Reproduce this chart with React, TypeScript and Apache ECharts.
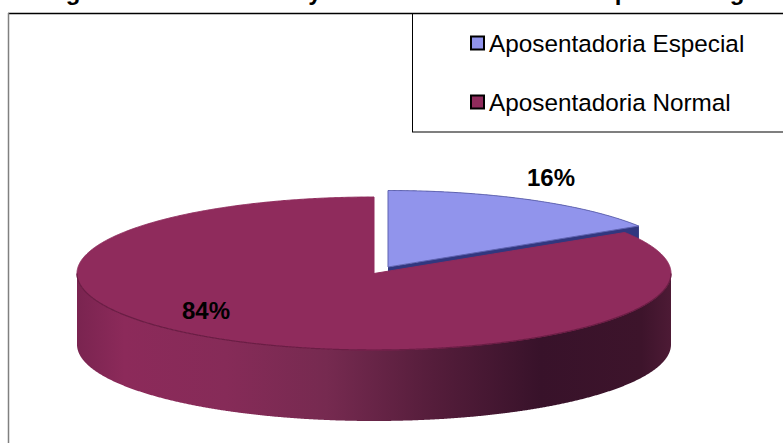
import React, { useEffect, useRef } from "react";
import * as echarts from "echarts";

const categories = ["Aposentadoria Especial", "Aposentadoria Normal"];
const values = [16, 84];
// Only the descenders of the original title are visible in the picture.
const titleFragments = ["g", "y", "p", "g"];

const FONT = "'Liberation Sans', Arial, sans-serif";
const total = values.reduce((a, b) => a + b, 0);
const RX = 297;
const RY = 76.5;
const DEPTH = 71;
const slices = [
  { cx: 388, cy: 267, face: "#9194ec", edge: "#5f63b0", cut: "#31377f", label: [551, 177] },
  { cx: 374, cy: 273.5, face: "#8f2b5c", edge: "#6a1d44", cut: "#6a1d44", label: [206, 310] },
];
const wallGradient = {
  type: "linear", x: 77, y: 0, x2: 671, y2: 0, global: true,
  colorStops: [
    { offset: 0, color: "#7a2450" },
    { offset: 0.08, color: "#8c2a5a" },
    { offset: 0.25, color: "#862b58" },
    { offset: 0.42, color: "#762a50" },
    { offset: 0.6, color: "#551d3b" },
    { offset: 0.78, color: "#38122a" },
    { offset: 0.95, color: "#3d142b" },
    { offset: 1, color: "#4d1a35" },
  ],
};

function arc(cx: number, cy: number, from: number, to: number) {
  const pts: number[][] = [];
  const n = Math.max(2, Math.ceil((to - from) / 0.004));
  for (let i = 0; i <= n; i++) {
    const a = from + ((to - from) * i) / n;
    pts.push([cx + RX * Math.sin(a), cy - RY * Math.cos(a)]);
  }
  return pts;
}

function makeSeries(index: number) {
  const start = values.slice(0, index).reduce((a, b) => a + b, 0);
  const s = slices[index];
  return {
    type: "custom",
    name: categories[index],
    coordinateSystem: "none",
    silent: true,
    z: index + 2,
    itemStyle: { color: s.face, borderColor: "#000", borderWidth: 2 },
    data: [values[index]],
    renderItem: (_p: unknown, api: any) => {
      const v = api.value(0);
      const a0 = (start / total) * Math.PI * 2;
      const a1 = ((start + v) / total) * Math.PI * 2;
      const top = arc(s.cx, s.cy, a0, a1);
      // The wall is only seen on the front half of the ellipse.
      const wallTop = arc(
        s.cx,
        s.cy,
        Math.max(a0, index === 0 ? a0 : Math.PI * 0.5),
        Math.min(a1, index === 0 ? a1 : Math.PI * 1.5),
      );
      const low = wallTop.map(([x, y]) => [x, y + DEPTH]);
      const wall = [...wallTop, ...low.slice().reverse()];
      const face = [[s.cx, s.cy], ...top];
      const children: any[] = [
        {
          type: "polygon",
          shape: { points: wall },
          style: { fill: index === 0 ? s.cut : wallGradient },
        },
      ];
      if (index === 0) {
        const last = top[top.length - 1];
        children.push({
          type: "polygon",
          shape: {
            points: [
              [s.cx, s.cy],
              [s.cx, s.cy + DEPTH],
              [last[0], last[1] + DEPTH],
              last,
            ],
          },
          style: { fill: s.cut },
        });
      }
      children.push({
        type: "polygon",
        shape: { points: face },
        style: { fill: s.face, stroke: index === 0 ? s.edge : s.face, lineWidth: 1 },
      });
      if (index === 1) {
        const front = arc(s.cx, s.cy, Math.PI * 0.5, Math.PI * 1.5);
        children.push({
          type: "polyline",
          shape: { points: front },
          style: { fill: "none", stroke: s.edge, lineWidth: 1.2 },
        });
      }
      children.push({
        type: "text",
        x: s.label[0],
        y: s.label[1],
        style: {
          text: `${v}%`,
          font: `bold 24px ${FONT}`,
          fill: "#000",
          textAlign: "center",
          textVerticalAlign: "middle",
        },
      });
      return { type: "group", children };
    },
  };
}

const line = (x1: number, y1: number, x2: number, y2: number, stroke: string, lineWidth: number) => ({
  type: "line",
  shape: { x1, y1, x2, y2 },
  style: { stroke, lineWidth },
  silent: true,
});

const titleX = [73, 315, 622, 737];

export default function App() {
  const ref = useRef<HTMLDivElement>(null);
  useEffect(() => {
    const chart = echarts.init(ref.current!, undefined, { renderer: "svg" });
    chart.setOption({
      animation: false,
      backgroundColor: "#fff",
      legend: {
        orient: "vertical",
        left: 465,
        top: 26,
        itemWidth: 13,
        itemHeight: 13,
        itemGap: 35,
        selectedMode: false,
        icon: "rect",
        data: categories,
        textStyle: { fontFamily: FONT, fontSize: 24.3, color: "#000", padding: [0, 0, 0, 0] },
      },
      series: [makeSeries(0), makeSeries(1)],
      graphic: [
        line(8, 13.5, 783, 13.5, "#000", 1.5),
        line(8.5, 13, 8.5, 443, "#808080", 1.5),
        line(412.5, 13, 412.5, 132, "#000", 1),
        line(412, 132, 783, 132, "#000", 1.2),
        ...titleFragments.map((t, i) => ({
          type: "text",
          x: titleX[i],
          y: -21,
          silent: true,
          style: {
            text: t,
            font: `bold 24px ${FONT}`,
            fill: "#000",
            textAlign: "center",
            textVerticalAlign: "top",
          },
        })),
      ],
    });
    return () => chart.dispose();
  }, []);
  return <div ref={ref} style={{ position: "absolute", left: 0, top: 0, width: 783, height: 443 }} />;
}
